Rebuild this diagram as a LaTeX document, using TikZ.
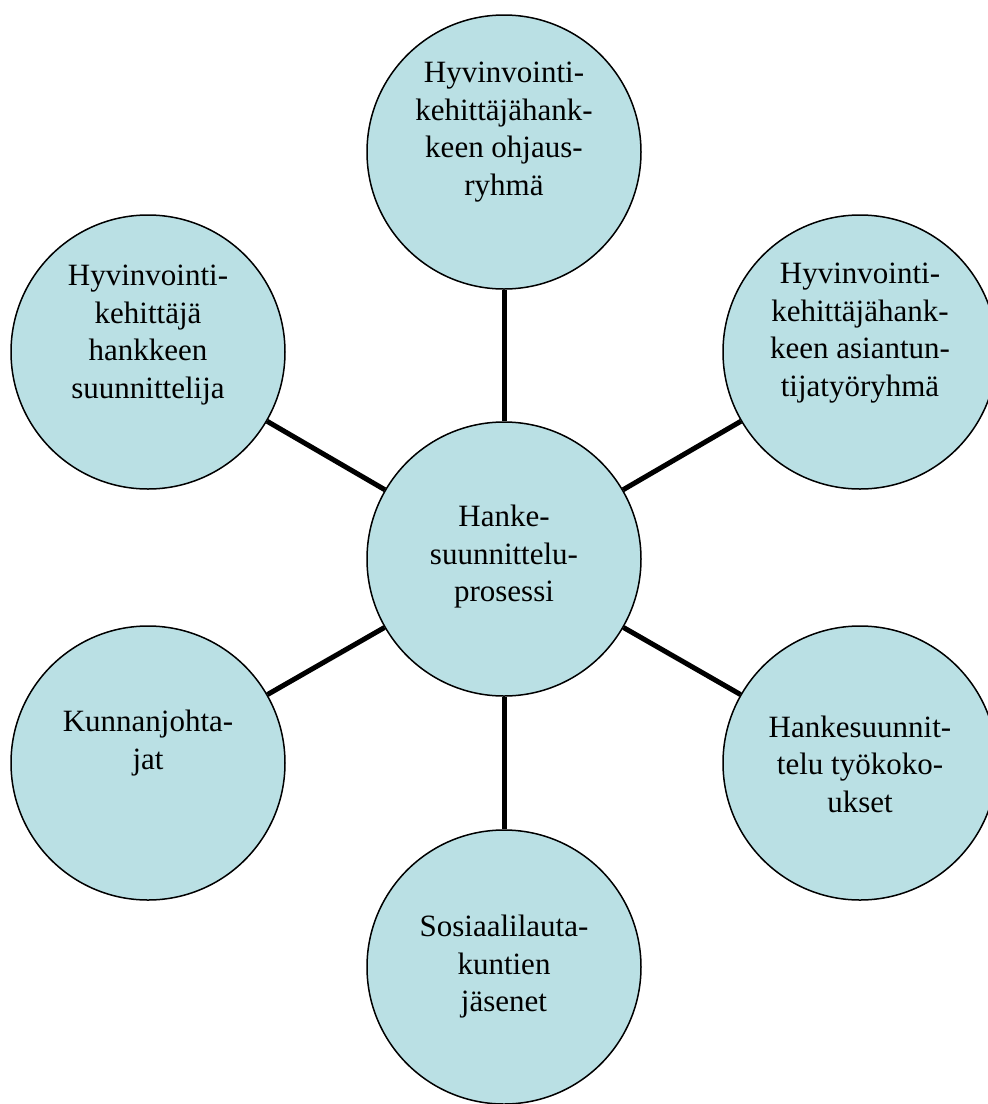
\documentclass[tikz,border=0pt]{standalone}
\usepackage{fontspec}
\setmainfont{Liberation Serif}
\definecolor{bubblefill}{RGB}{186,224,228}
\begin{document}
\begin{tikzpicture}[x=1pt,y=-1pt,
  bubble/.style={circle,draw=black,line width=1.5pt,fill=bubblefill,minimum size=274pt,inner sep=0pt},
  label/.style={align=center,inner sep=0pt,font=\fontsize{31}{37.5}\selectfont},
  link/.style={line width=5pt,draw=black}]
\useasboundingbox (0,0) rectangle (988,1104);
\clip (0,0) rectangle (988,1104);
\node[bubble] (c)  at (504,559) {};
\node[bubble] (t)  at (504,152) {};
\node[bubble] (ul) at (148,352) {};
\node[bubble] (ur) at (860,352) {};
\node[bubble] (lr) at (860,763) {};
\node[bubble] (ll) at (148,763) {};
\node[bubble] (b)  at (504,967) {};
\draw[link] (c) -- (t);
\draw[link] (c) -- (ul);
\draw[link] (c) -- (ur);
\draw[link] (c) -- (lr);
\draw[link] (c) -- (ll);
\draw[link] (c) -- (b);
\node[label] (ct)  at (504,557) {Hanke-\\suunnittelu-\\prosessi};
\node[label] (tt)  at (504,132) {Hyvinvointi-\\kehittäjähank-\\keen ohjaus-\\ryhmä};
\node[label] (ult) at (148,335) {Hyvinvointi-\\kehittäjä\\hankkeen\\suunnittelija};
\node[label] (urt) at (860,333) {Hyvinvointi-\\kehittäjähank-\\keen asiantun-\\tijatyöryhmä};
\node[label] (lrt) at (860,764) {Hankesuunnit-\\telu työkoko-\\ukset};
\node[label] (llt) at (148,743) {Kunnanjohta-\\jat};
\node[label] (bt)  at (504,967) {Sosiaalilauta-\\kuntien\\jäsenet};
\end{tikzpicture}
\end{document}
